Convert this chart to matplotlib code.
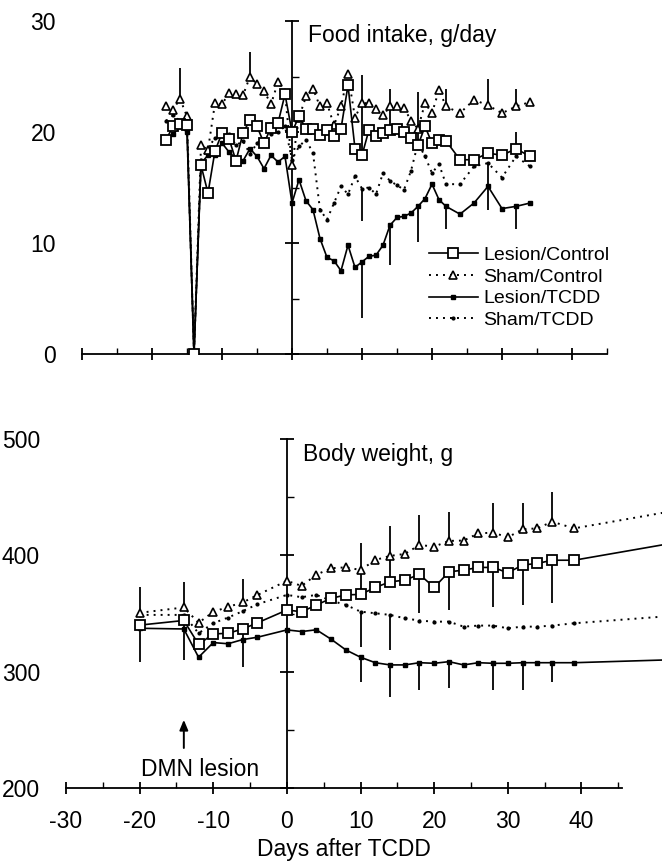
import matplotlib.pyplot as plt
from matplotlib.ticker import MultipleLocator

plt.rcParams['font.family'] = ['Liberation Sans', 'DejaVu Sans']
plt.rcParams['axes.unicode_minus'] = False

groups = ['Lesion/Control', 'Sham/Control', 'Lesion/TCDD', 'Sham/TCDD']

# food intake, g/day
fi_days = [-18, -17, -16, -15, -14, -13, -12, -11, -10, -9, -8, -7, -6, -5, -4, -3, -2, -1,
           0, 1, 2, 3, 4, 5, 6, 7, 8, 9, 10, 11, 12, 13, 14, 15, 16, 17, 18, 19, 20, 21, 22,
           24, 26, 28, 30, 32, 34]
fi_lesion_control = [19.3, 20.5, 20.7, 20.6, 0.0, 17.0, 14.5, 18.3, 19.9, 19.4,
                     17.4, 19.9, 21.1, 20.5, 19.0, 20.4, 20.8, 23.4, 20.0, 21.4,
                     20.3, 20.3, 19.7, 20.2, 19.6, 20.3, 24.2, 18.5, 17.9, 20.2,
                     19.6, 19.9, 20.2, 20.3, 20.0, 19.5, 18.8, 20.5, 19.0, 19.3,
                     19.2, 17.5, 17.5, 18.1, 17.9, 18.5, 17.8]
fi_sham_control = [22.3, 22.0, 23.0, 21.4, 0.0, 18.8, 18.4, 22.6, 22.5, 23.5,
                   23.4, 23.3, 25.0, 24.3, 23.7, 22.5, 24.5, 23.5, 17.0, 21.3,
                   23.2, 23.9, 22.3, 22.6, 20.6, 22.3, 25.2, 21.3, 22.6, 22.6,
                   22.1, 21.5, 22.3, 22.3, 22.2, 21.0, 20.3, 22.6, 21.7, 23.8,
                   22.3, 21.7, 22.9, 22.4, 21.7, 22.3, 22.7]
fi_lesion_tcdd = [19.2, 19.8, 20.5, 20.0, 0.0, 17.2, 17.9, 17.9, 19.0, 18.2,
                  17.6, 17.4, 18.5, 17.8, 16.7, 17.9, 17.3, 17.8, 13.6, 15.7,
                  13.8, 13.0, 10.4, 8.7, 8.4, 7.5, 9.8, 7.8, 8.3, 8.8,
                  8.9, 9.8, 11.6, 12.3, 12.4, 12.7, 13.3, 14.0, 15.3, 13.9,
                  13.3, 12.6, 13.6, 15.1, 13.1, 13.3, 13.6]
fi_sham_tcdd = [21.0, 21.5, 21.0, 20.5, 0.0, 17.5, 18.5, 19.5, 19.0, 19.8,
                18.8, 19.2, 18.0, 19.0, 19.4, 19.8, 20.0, 20.5, 17.5, 18.7,
                19.3, 18.1, 13.0, 12.1, 13.6, 15.1, 14.4, 16.0, 14.9, 15.0,
                14.4, 16.3, 15.6, 15.2, 14.8, 16.5, 19.0, 17.8, 16.3, 17.1,
                15.3, 15.3, 16.9, 17.2, 15.9, 17.8, 16.9]

# one-sided error bars: group index, day, end of bar
fi_err_group = [1, 1, 0, 2, 3, 0, 2, 0, 2, 1, 2, 1, 3, 1, 0, 2]
fi_err_days = [-16, -6, 10, 10, 10, 14, 14, 18, 18, 22, 22, 28, 28, 32, 32, 32]
fi_err_ends = [25.8, 27.2, 25.1, 3.2, 12.0, 23.9, 8.0, 23.6, 10.1, 23.9, 11.3,
               24.8, 13.0, 23.9, 20.0, 11.3]

# body weight, g
bw_days = [-20, -14, -12, -10, -8, -6, -4, 0, 2, 4, 6, 8, 10, 12, 14, 16, 18, 20,
           22, 24, 26, 28, 30, 32, 34, 36, 39, 51]
bw_lesion_control = [340, 344, 323.5, 332.4, 333, 336.7, 342, 353, 351.5, 357.3,
                     363, 366, 366.4, 372.4, 377.2, 378.7, 383.6, 372.4, 385.8, 387.3,
                     389.6, 389.6, 385, 391.7, 393, 395.8, 395.8, 409]
bw_sham_control = [350.6, 355.2, 342, 351.4, 355.7, 359.5, 365.9, 378.1, 373.7, 383.4,
                   388.9, 389.7, 387.4, 396, 399.5, 401.2, 408.9, 407.5, 412.4, 412.7,
                   418.9, 419.5, 415.5, 422.4, 423.2, 428.9, 423.2, 436.5]
bw_lesion_tcdd = [337.3, 336.7, 312.4, 325, 324, 327.6, 329.6, 335.9, 334.5, 336,
                  327.9, 318.7, 312.4, 307.7, 305.8, 305.8, 307.7, 307.2, 308.6, 305.8,
                  307.7, 307.2, 307.2, 307.7, 307.7, 307.7, 307.7, 310]
bw_sham_tcdd = [348.8, 348.8, 333, 341.7, 346.5, 352, 358, 366, 364, 366,
                361, 357.4, 351.6, 350.2, 348.8, 345.9, 343.9, 343, 343, 338.7,
                339.6, 339.6, 337.3, 338.7, 338.7, 339.6, 341.6, 347.3]

bw_err_group = [1, 1, 1, 1, 1, 1, 1, 1, 1, 1,
                0, 0, 0, 0, 0, 0, 0, 0, 0, 0,
                2, 2, 2, 2, 2, 2, 2, 3, 3]
bw_err_days = [-20, -14, -6, 10, 14, 18, 22, 28, 32, 36,
               -20, -14, -6, 10, 14, 18, 22, 28, 32, 36,
               10, 14, 18, 22, 28, 32, 36, 10, 14]
bw_err_ends = [373, 377.4, 380, 411, 425.3, 434.7, 437.4, 444.6, 444.6, 454.8,
               308.6, 310, 304.3, 387, 400, 350.2, 353, 355.9, 357.4, 358.8,
               291.4, 278.5, 284.3, 285.7, 284.3, 284.3, 291.4, 321.5, 318.7]

dot = (0, (1, 2.6))
styles = [
    dict(color='k', ls='-', lw=1.2, marker='s', ms=6.8, mfc='white', mec='k', mew=1.3, zorder=5),
    dict(color='k', ls=dot, lw=1.4, marker='^', ms=5.8, mfc='white', mec='k', mew=1.2, zorder=4),
    dict(color='k', ls='-', lw=1.2, marker='s', ms=3.2, mfc='k', mec='k', zorder=3),
    dict(color='k', ls=dot, lw=1.4, marker='o', ms=2.0, mfc='k', mec='k', zorder=3),
]

W, H = 662, 868
fig = plt.figure(figsize=(W / 100, H / 100), dpi=100)
ax1 = fig.add_axes([82 / W, 1 - 354 / H, 525 / W, 333 / H])
ax2 = fig.add_axes([66 / W, 1 - 788 / H, 556 / W, 349 / H])

FS = 16.5


def frame(ax, ylim, ystep, xlim):
    ax.set_xlim(*xlim)
    ax.set_ylim(*ylim)
    ax.spines['left'].set_visible(False)
    ax.spines['top'].set_visible(False)
    ax.spines['right'].set_position(('data', 0))
    for s in ['bottom', 'right']:
        ax.spines[s].set_linewidth(1.3)
    ax.xaxis.set_major_locator(MultipleLocator(10))
    ax.xaxis.set_minor_locator(MultipleLocator(5))
    ax.yaxis.set_major_locator(MultipleLocator(ystep))
    ax.yaxis.set_minor_locator(MultipleLocator(ystep / 2))
    ax.tick_params(axis='x', which='major', direction='inout', length=9, width=1.3,
                   labelsize=FS, pad=11)
    ax.tick_params(axis='x', which='minor', direction='in', length=4, width=1.0)
    ax.tick_params(axis='y', which='both', left=False, right=True, labelleft=True,
                   labelright=False, labelsize=FS, pad=19 * 0.72)
    ax.tick_params(axis='y', which='major', direction='inout', length=10, width=1.3)
    ax.tick_params(axis='y', which='minor', direction='out', length=5, width=1.0)


def draw(ax, days, series, err_group, err_days, err_ends, clip=True):
    lines = []
    for vals, st, name in zip(series, styles, groups):
        for g, d, e in zip(err_group, err_days, err_ends):
            if series[g] is vals:
                y0 = vals[days.index(d)]
                ax.vlines(d, y0, e, color='k', lw=1.3, zorder=2, clip_on=clip)
        n = len(days) if clip else len(days) - 1
        ln, = ax.plot(days, vals, label=name, markevery=list(range(n)), clip_on=clip, **st)
        lines.append(ln)
    return lines


frame(ax1, (0, 30), 10, (-30, 45))
ax1.tick_params(axis='x', labelbottom=False)
lines = draw(ax1, fi_days, [fi_lesion_control, fi_sham_control, fi_lesion_tcdd, fi_sham_tcdd],
             fi_err_group, fi_err_days, fi_err_ends)
ax1.text(2.3, 28.7, 'Food intake, g/day', fontsize=FS, va='center', ha='left')
fig.legend(handles=lines, loc='upper left', bbox_to_anchor=(429 / W, 1 - 246 / H),
           frameon=False, fontsize=14, numpoints=1, handlelength=2.5, handletextpad=0.3,
           labelspacing=0.22, borderpad=0, borderaxespad=0)

frame(ax2, (200, 500), 100, (-30, 45.5))
draw(ax2, bw_days, [bw_lesion_control, bw_sham_control, bw_lesion_tcdd, bw_sham_tcdd],
     bw_err_group, bw_err_days, bw_err_ends, clip=False)
ax2.set_xticks(range(-30, 41, 10))
ax2.set_xlabel('Days after TCDD', fontsize=FS, labelpad=4)
ax2.text(2.2, 487, 'Body weight, g', fontsize=FS, va='center', ha='left')
ax2.annotate('', xy=(-14, 261), xytext=(-14, 232),
             arrowprops=dict(arrowstyle='-|>,head_width=0.25,head_length=0.6', color='k', lw=1.4))
ax2.text(-11.8, 216, 'DMN lesion', fontsize=FS, va='center', ha='center')

fig.savefig('out.png', dpi=100)
